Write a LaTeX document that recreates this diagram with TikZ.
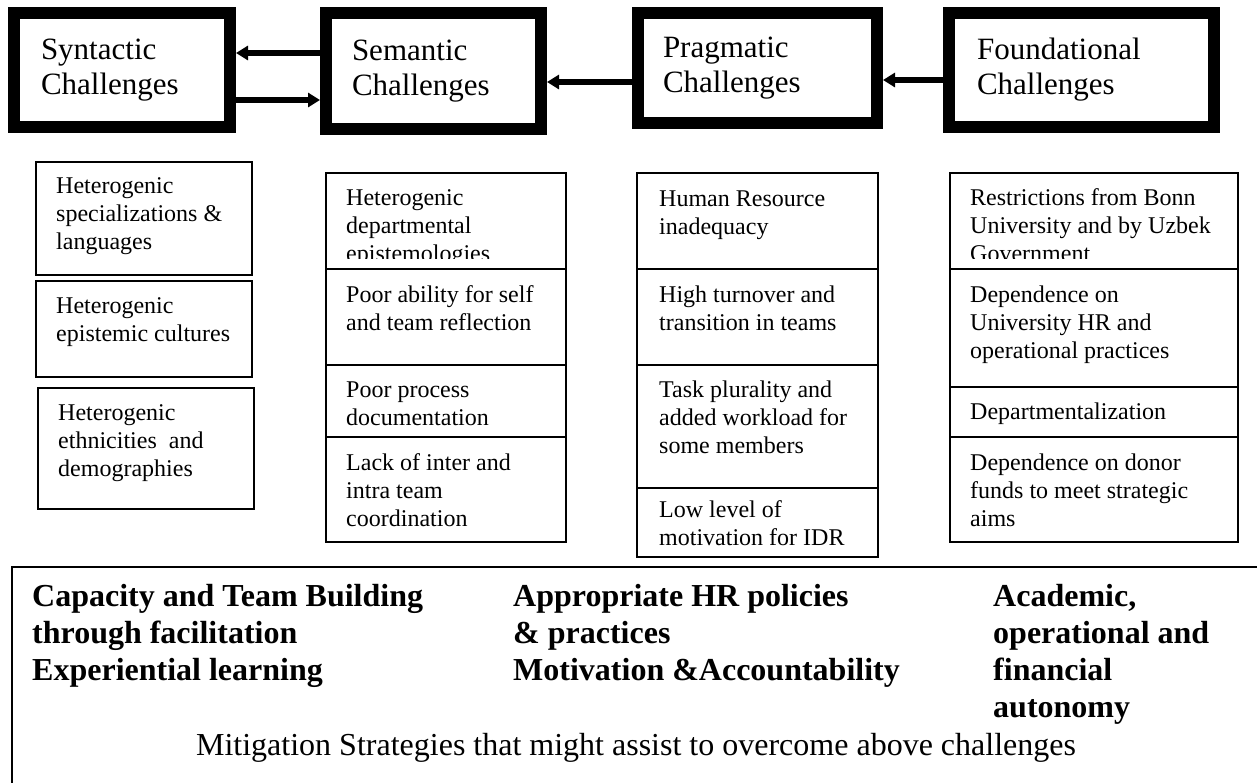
\documentclass[tikz,border=0pt]{standalone}
\usepackage{fontspec}
\setmainfont{Liberation Serif}
\usetikzlibrary{arrows.meta}

\newcommand\headfont{\fontsize{31}{35}\selectfont}
\newcommand\itemfont{\fontsize{24}{28}\selectfont}
\newcommand\remedyfont{\fontsize{32}{37}\selectfont\bfseries}
\newcommand\remedyplain{\fontsize{32}{37}\selectfont}

\tikzset{
  challenge/.style={draw, line width=12pt, anchor=north west, align=left, inner ysep=0pt, font=\headfont},
  arr/.style={line width=5.5pt, -{Triangle[length=12pt,width=14pt]}},
  cell/.style={line width=1.6pt},
  % multi-line items are placed by the baseline of their last line
  item/.style={anchor=base west, align=left, inner sep=0pt, font=\itemfont},
  remedy/.style={anchor=base west, align=left, inner sep=0pt, font=\remedyfont},
}

\begin{document}
\begin{tikzpicture}[x=1pt, y=-1pt]
        \useasboundingbox (0,0) rectangle (1257,782);
        \clip (0,0) rectangle (1257,782);

        % the four kinds of challenges
        \node[challenge, text width=162pt, inner xsep=27pt, minimum height=114pt] (syn) at (8,7) {Syntactic\\Challenges};
        \node[challenge, text width=163pt, inner xsep=26pt, minimum height=116pt] (sem) at (320,7) {Semantic\\Challenges};
        \node[challenge, text width=189pt, inner xsep=25pt, minimum height=110pt] (prag) at (632,7) {Pragmatic\\Challenges};
        \node[challenge, text width=209pt, inner xsep=28pt, minimum height=114pt] (found) at (943,7) {Foundational\\Challenges};

        \draw[arr] (sem.west |- 0,53) -- (syn.east |- 0,53);
        \draw[arr] (syn.east |- 0,100) -- (sem.west |- 0,100);
        \draw[arr] (prag.west |- 0,82) -- (sem.east |- 0,82);
        \draw[arr] (found.west |- 0,80) -- (prag.east |- 0,80);

        % syntactic: three separate boxes
        \draw[cell] (36,162) rectangle (252,275);
        \draw[cell] (36,281) rectangle (252,377);
        \draw[cell] (38,388) rectangle (254,509);
        \node[item] (spec) at (56,249) {Heterogenic\\specializations \&\\languages};
        \node[item] (cult) at (56,341) {Heterogenic\\epistemic cultures};
        \node[item] (ethn) at (58,476) {Heterogenic\\ethnicities\ \ and\\demographies};

        % semantic column
        \draw[cell] (326,173) rectangle (566,542);
        \foreach \y in {269,365,437}
            \draw[cell] (326,\y) -- (566,\y);
        \begin{scope}
            \clip (326,173) rectangle (566,258);
            \node[item] (episte) at (346,261) {Heterogenic\\departmental\\epistemologies};
        \end{scope}
        \node[item] (reflect) at (346,330) {Poor ability for self\\and team reflection};
        \node[item] (docu) at (346,425) {Poor process\\documentation};
        \node[item] (coord) at (346,526) {Lack of inter and\\intra team\\coordination};

        % pragmatic column
        \draw[cell] (637,173) rectangle (878,557);
        \foreach \y in {269,365,488}
            \draw[cell] (637,\y) -- (878,\y);
        \node[item] (hr) at (659,234) {Human Resource\\inadequacy};
        \node[item] (turnover) at (659,330) {High turnover and\\transition in teams};
        \node[item] (workload) at (659,453) {Task plurality and\\added workload for\\some members};
        \node[item] (motiv) at (659,545) {Low level of\\motivation for IDR};

        % foundational column
        \draw[cell] (950,173) rectangle (1238,542);
        \foreach \y in {269,387,437}
            \draw[cell] (950,\y) -- (1238,\y);
        \begin{scope}
            \clip (950,173) rectangle (1238,258);
            \node[item] (restrict) at (970,261) {Restrictions from Bonn\\University and by Uzbek\\Government};
        \end{scope}
        \node[item] (depend) at (970,358) {Dependence on\\University HR and\\operational practices};
        \node[item] (dept) at (970,419) {Departmentalization};
        \node[item] (donor) at (970,526) {Dependence on donor\\funds to meet strategic\\aims};

        % mitigation strategies
        \draw[line width=2.4pt] (12,567) rectangle (1300,830);
        \node[remedy] (capacity) at (32,680) {Capacity and Team Building\\through facilitation\\Experiential learning};
        \node[remedy] (policy) at (513,680) {Appropriate HR policies\\\& practices\\Motivation \&Accountability};
        \node[remedy] (autonomy) at (993,717) {Academic,\\operational and\\financial\\autonomy};
        \node[font=\remedyplain, anchor=base, inner sep=0pt] (mitigation) at (636,755) {Mitigation Strategies that might assist to overcome above challenges};
\end{tikzpicture}
\end{document}
